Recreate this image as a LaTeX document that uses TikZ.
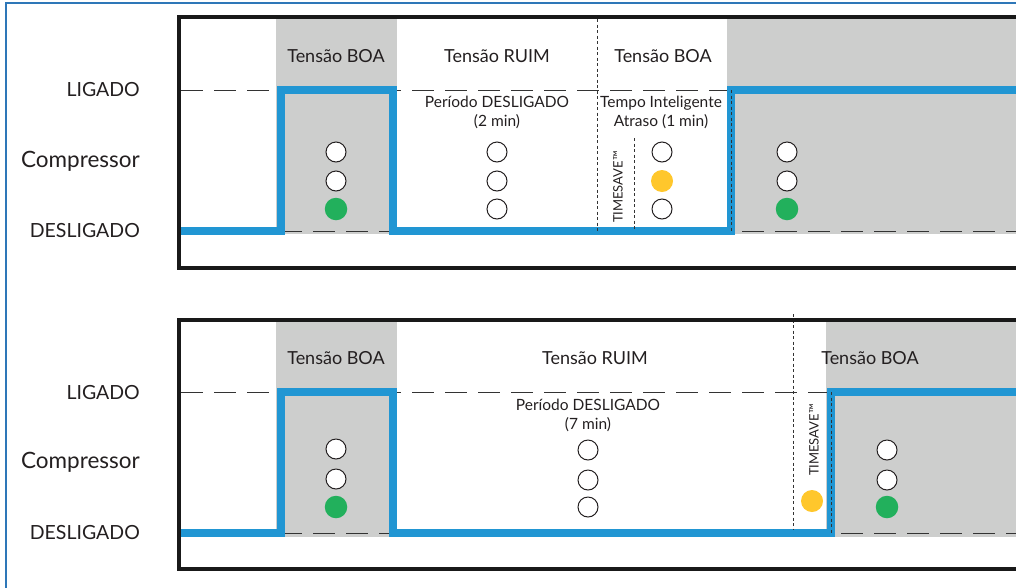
\documentclass[tikz,border=0pt]{standalone}
\usepackage{fontspec}
\setmainfont{Lato}
\usetikzlibrary{positioning}

\definecolor{linha}{HTML}{2196D3}
\definecolor{moldura}{HTML}{2E77B8}
\definecolor{cinza}{HTML}{CDCECD}
\definecolor{verde}{HTML}{22B05C}
\definecolor{amarelo}{HTML}{FFC72C}
\definecolor{texto}{HTML}{231F20}

\begin{document}
\begin{tikzpicture}[x=1pt, y=-1pt,
		faixa/.style={fill=cinza},
		nivel/.style={dash pattern=on 22pt off 11pt, line width=1pt, black!80},
		sinal/.style={line width=8pt, linha, line join=miter},
		pontilhado/.style={dash pattern=on 3pt off 2.5pt, line width=1pt, black!80},
		caixa/.style={line width=4pt, black!90},
		led/.style={circle, draw=texto, line width=1pt, fill=white, minimum size=20pt, inner sep=0pt},
		ledverde/.style={circle, fill=verde, minimum size=22.5pt, inner sep=0pt},
		ledamarelo/.style={circle, fill=amarelo, minimum size=22pt, inner sep=0pt},
		rotulo/.style={text=texto, font=\fontsize{18}{21}\selectfont},
		estado/.style={text=texto, anchor=east, inner sep=0pt, font=\fontsize{19.5}{22}\selectfont},
		nota/.style={text=texto, align=center, font=\fontsize{15.5}{19}\selectfont}]
	\useasboundingbox (0,0) rectangle (1016,587);
	\clip (0,0) rectangle (1016,587);
	
	% faixas de tensao boa
	\fill[faixa] (276,19) rectangle (397,234);
	\fill[faixa] (727,19) rectangle (1030,234);
	\fill[faixa] (276,322) rectangle (397,537);
	\fill[faixa] (826,322) rectangle (1030,537);
	
	% niveis ligado / desligado
	\draw[nivel] (181,90) -- (1030,90);
	\draw[nivel] (181,231) -- (1030,231);
	\draw[nivel] (181,392) -- (1030,392);
	\draw[nivel] (181,533) -- (1030,533);
	
	% estado do compressor
	\draw[sinal] (178,231) -- (281,231) -- (281,90) -- (393,90) -- (393,231) -- (731,231) -- (731,90) -- (1030,90);
	\draw[sinal] (178,533) -- (281,533) -- (281,392) -- (393,392) -- (393,533) -- (831,533) -- (831,392) -- (1030,392);
	
	\draw[pontilhado] (597,19) -- (597,231);
	\draw[pontilhado] (634,138) -- (634,229);
	\draw[pontilhado] (731,90) -- (731,231);
	\draw[pontilhado] (793,314) -- (793,529);
	\draw[pontilhado] (831,392) -- (831,533);
	
	\draw[caixa] (179,17) rectangle (1030,268);
	\draw[caixa] (179,320) rectangle (1030,569);
	\draw[moldura, line width=2pt] (6,2.5) rectangle (1030,600);
	
	% rotulos da esquerda
	\node[estado] (lig1) at (140,90) {LIGADO};
	\node[estado, font=\fontsize{22.5}{26}\selectfont] (comp1) at (140,161) {Compressor};
	\node[estado] (des1) at (140,231) {DESLIGADO};
	\node[estado] (lig2) at (140,393) {LIGADO};
	\node[estado, font=\fontsize{22.5}{26}\selectfont] (comp2) at (140,462) {Compressor};
	\node[estado] (des2) at (140,533) {DESLIGADO};
	
	% primeiro ciclo
	\node[rotulo] (boa1) at (336,56) {Tensão BOA};
	\node[rotulo] (ruim1) at (497,56) {Tensão RUIM};
	\node[rotulo] (boa2) at (663,56) {Tensão BOA};
	\node[nota] (off1) at (497,112) {Período DESLIGADO\\(2 min)};
	\node[nota] (atraso) at (661,112) {Tempo Inteligente\\Atraso (1 min)};
	\node[nota, rotate=90, font=\fontsize{13}{16}\selectfont] (ts1) at (618,187) {TIMESAVE™};
	
	\node[led] (a1) at (336,152) {};
	\node[led] (a2) at (336,181) {};
	\node[ledverde] (a3) at (336,209) {};
	\node[led] (b1) at (497,152) {};
	\node[led] (b2) at (497,181) {};
	\node[led] (b3) at (497,209) {};
	\node[led] (c1) at (662,152) {};
	\node[ledamarelo] (c2) at (662,181) {};
	\node[led] (c3) at (662,209) {};
	\node[led] (d1) at (787,152) {};
	\node[led] (d2) at (787,181) {};
	\node[ledverde] (d3) at (787,209) {};
	
	% segundo ciclo
	\node[rotulo] (boa3) at (336,358) {Tensão BOA};
	\node[rotulo] (ruim2) at (595,358) {Tensão RUIM};
	\node[rotulo] (boa4) at (870,358) {Tensão BOA};
	\node[nota] (off2) at (588,415) {Período DESLIGADO\\(7 min)};
	\node[nota, rotate=90, font=\fontsize{13}{16}\selectfont] (ts2) at (814,440) {TIMESAVE™};
	
	\node[led] (e1) at (336,449) {};
	\node[led] (e2) at (336,479) {};
	\node[ledverde] (e3) at (336,507) {};
	\node[led] (f1) at (588,450) {};
	\node[led] (f2) at (588,480) {};
	\node[led] (f3) at (588,507) {};
	\node[ledamarelo] (g1) at (812,501) {};
	\node[led] (h1) at (887,450) {};
	\node[led] (h2) at (887,480) {};
	\node[ledverde] (h3) at (887,507) {};
\end{tikzpicture}
\end{document}
